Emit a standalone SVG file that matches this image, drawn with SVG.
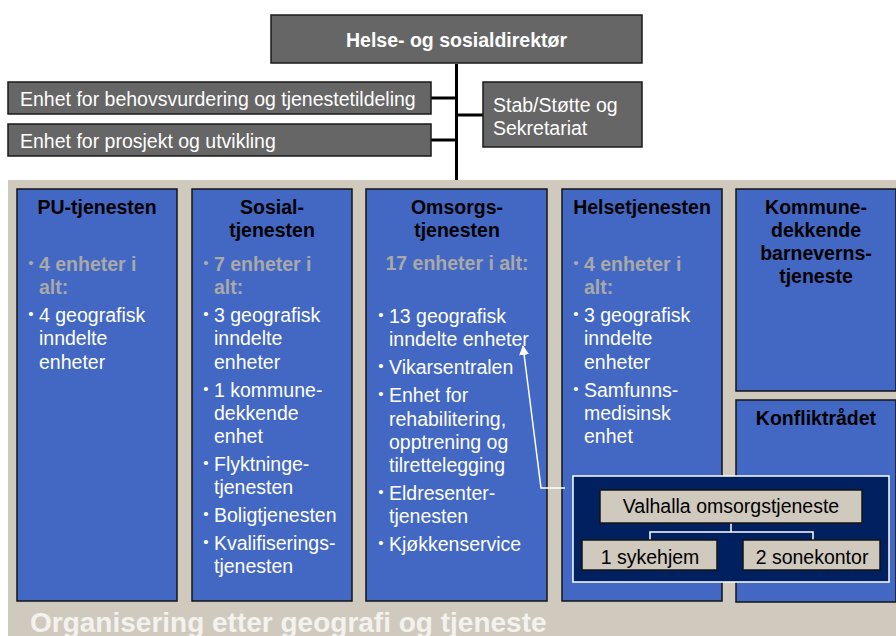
<svg xmlns="http://www.w3.org/2000/svg" width="896" height="636" viewBox="0 0 896 636">
  <defs>
    <style>
      .t{font-family:"Liberation Sans",Arial,sans-serif;font-size:19.5px}
      .hdr{fill:#666666;stroke:#1a1a1a;stroke-width:1.5}
      .col{fill:#4368c4;stroke:#141414;stroke-width:1.5}
      .lite{fill:#d0c9be;stroke:#141414;stroke-width:1.5}
      .w{fill:#ffffff}
      .k{fill:#000000}
      .b{font-weight:bold}
      .g{fill:#a9a9a9;font-weight:bold}
      .m{text-anchor:middle}
      .bul{font-size:15px;text-anchor:middle;font-weight:normal}
      .link{stroke:#000;stroke-width:3;fill:none}
      .wl{stroke:#fff;stroke-width:1.5;fill:none}
    </style>
    <marker id="arrowhead" viewBox="0 0 10 10" refX="9" refY="5" markerWidth="10" markerHeight="10" markerUnits="userSpaceOnUse" orient="auto">
      <path d="M0,0 L10,5 L0,10 z" fill="#fff"/>
    </marker>
  </defs>

  <!-- backdrop for the service area -->
  <rect x="8" y="180" width="888" height="456" fill="#d0c9be"/>

  <!-- connectors of the management level -->
  <g id="connectors">
    <line class="link" x1="456.5" y1="64" x2="456.5" y2="180"/>
    <line class="link" x1="431" y1="98" x2="456.5" y2="98"/>
    <line class="link" x1="431" y1="140" x2="456.5" y2="140"/>
    <line class="link" x1="456.5" y1="115" x2="483" y2="115"/>
  </g>

  <g id="direktor">
    <rect class="hdr" x="271" y="15" width="371" height="48"/>
    <text class="t w b m" x="456.5" y="47">Helse- og sosialdirektør</text>
  </g>

  <g id="behovsvurdering">
    <rect class="hdr" x="8" y="82" width="423" height="32"/>
    <text class="t w" x="20" y="106">Enhet for behovsvurdering og tjenestetildeling</text>
  </g>

  <g id="prosjekt">
    <rect class="hdr" x="8" y="124" width="423" height="32"/>
    <text class="t w" x="20" y="148">Enhet for prosjekt og utvikling</text>
  </g>

  <g id="stab">
    <rect class="hdr" x="483" y="82" width="159" height="65"/>
    <text class="t w" x="493" y="112">Stab/Støtte og</text>
    <text class="t w" x="493" y="135">Sekretariat</text>
  </g>

  <!-- service columns -->
  <g id="pu">
    <rect class="col" x="17" y="189" width="160" height="412"/>
    <text class="t k b m" x="97" y="214">PU-tjenesten</text>
    <text class="t g bul" x="31" y="268">•</text>
    <text class="t g" x="39" y="271">4 enheter i</text>
    <text class="t g" x="39" y="294">alt:</text>
    <text class="t w bul" x="31" y="319">•</text>
    <text class="t w" x="39" y="322">4 geografisk</text>
    <text class="t w" x="39" y="345">inndelte</text>
    <text class="t w" x="39" y="368.5">enheter</text>
  </g>

  <g id="sosial">
    <rect class="col" x="192" y="189" width="160" height="412"/>
    <text class="t k b m" x="272" y="214">Sosial-</text>
    <text class="t k b m" x="272" y="237">tjenesten</text>
    <text class="t g bul" x="206" y="268">•</text>
    <text class="t g" x="214" y="271">7 enheter i</text>
    <text class="t g" x="214" y="294">alt:</text>
    <text class="t w bul" x="206" y="319">•</text>
    <text class="t w" x="214" y="322">3 geografisk</text>
    <text class="t w" x="214" y="345">inndelte</text>
    <text class="t w" x="214" y="368.5">enheter</text>
    <text class="t w bul" x="206" y="393.5">•</text>
    <text class="t w" x="214" y="396.5">1 kommune-</text>
    <text class="t w" x="214" y="420">dekkende</text>
    <text class="t w" x="214" y="443">enhet</text>
    <text class="t w bul" x="206" y="468">•</text>
    <text class="t w" x="214" y="471">Flyktninge-</text>
    <text class="t w" x="214" y="494">tjenesten</text>
    <text class="t w bul" x="206" y="519">•</text>
    <text class="t w" x="214" y="522">Boligtjenesten</text>
    <text class="t w bul" x="206" y="547">•</text>
    <text class="t w" x="214" y="550">Kvalifiserings-</text>
    <text class="t w" x="214" y="573">tjenesten</text>
  </g>

  <g id="omsorg">
    <rect class="col" x="366" y="189" width="181" height="412"/>
    <text class="t k b m" x="457" y="214">Omsorgs-</text>
    <text class="t k b m" x="457" y="237">tjenesten</text>
    <text class="t g m" x="457" y="270">17 enheter i alt:</text>
    <text class="t w bul" x="381" y="320">•</text>
    <text class="t w" x="389" y="323">13 geografisk</text>
    <text class="t w" x="389" y="346">inndelte enheter</text>
    <text class="t w bul" x="381" y="371">•</text>
    <text class="t w" x="389" y="374">Vikarsentralen</text>
    <text class="t w bul" x="381" y="399">•</text>
    <text class="t w" x="389" y="402">Enhet for</text>
    <text class="t w" x="389" y="425.5">rehabilitering,</text>
    <text class="t w" x="389" y="448.5">opptrening og</text>
    <text class="t w" x="389" y="472">tilrettelegging</text>
    <text class="t w bul" x="381" y="497">•</text>
    <text class="t w" x="389" y="500">Eldresenter-</text>
    <text class="t w" x="389" y="523">tjenesten</text>
    <text class="t w bul" x="381" y="548">•</text>
    <text class="t w" x="389" y="551">Kjøkkenservice</text>
  </g>

  <g id="helse">
    <rect class="col" x="562" y="189" width="160" height="412"/>
    <text class="t k b m" x="642" y="214">Helsetjenesten</text>
    <text class="t g bul" x="576" y="268">•</text>
    <text class="t g" x="584" y="271">4 enheter i</text>
    <text class="t g" x="584" y="294">alt:</text>
    <text class="t w bul" x="576" y="319">•</text>
    <text class="t w" x="584" y="322">3 geografisk</text>
    <text class="t w" x="584" y="345">inndelte</text>
    <text class="t w" x="584" y="368.5">enheter</text>
    <text class="t w bul" x="576" y="393.5">•</text>
    <text class="t w" x="584" y="396.5">Samfunns-</text>
    <text class="t w" x="584" y="420">medisinsk</text>
    <text class="t w" x="584" y="443">enhet</text>
  </g>

  <g id="barnevern">
    <rect class="col" x="736" y="189" width="160" height="202"/>
    <text class="t k b m" x="816" y="214">Kommune-</text>
    <text class="t k b m" x="816" y="237">dekkende</text>
    <text class="t k b m" x="816" y="260">barneverns-</text>
    <text class="t k b m" x="816" y="283">tjeneste</text>
  </g>

  <g id="konfliktradet">
    <rect class="col" x="736" y="400" width="160" height="202"/>
    <text class="t k b m" x="816" y="425">Konfliktrådet</text>
  </g>

  <!-- Valhalla inset -->
  <g id="valhalla">
    <rect x="573" y="476" width="316" height="106" fill="#002060" stroke="#fff" stroke-width="1.5"/>
    <line class="wl" x1="731" y1="523" x2="731" y2="532"/>
    <polyline class="wl" points="650,540 650,532 813,532 813,540"/>
    <rect class="lite" x="600" y="490" width="262" height="33"/>
    <text class="t k m" x="731" y="513">Valhalla omsorgstjeneste</text>
  </g>
  <g id="sykehjem">
    <rect class="lite" x="582" y="540" width="135" height="30"/>
    <text class="t k m" x="650" y="564">1 sykehjem</text>
  </g>
  <g id="sonekontor">
    <rect class="lite" x="743" y="540" width="137" height="30"/>
    <text class="t k m" x="812" y="564">2 sonekontor</text>
  </g>

  <!-- pointer from the inset to the district units -->
  <g id="pointer">
    <polyline class="wl" points="565,488 541,488 523,346" marker-end="url(#arrowhead)"/>
  </g>

  <text class="t b" x="30" y="632" style="font-size:28px;fill:#f4f2ee">Organisering etter geografi og tjeneste</text>
</svg>
